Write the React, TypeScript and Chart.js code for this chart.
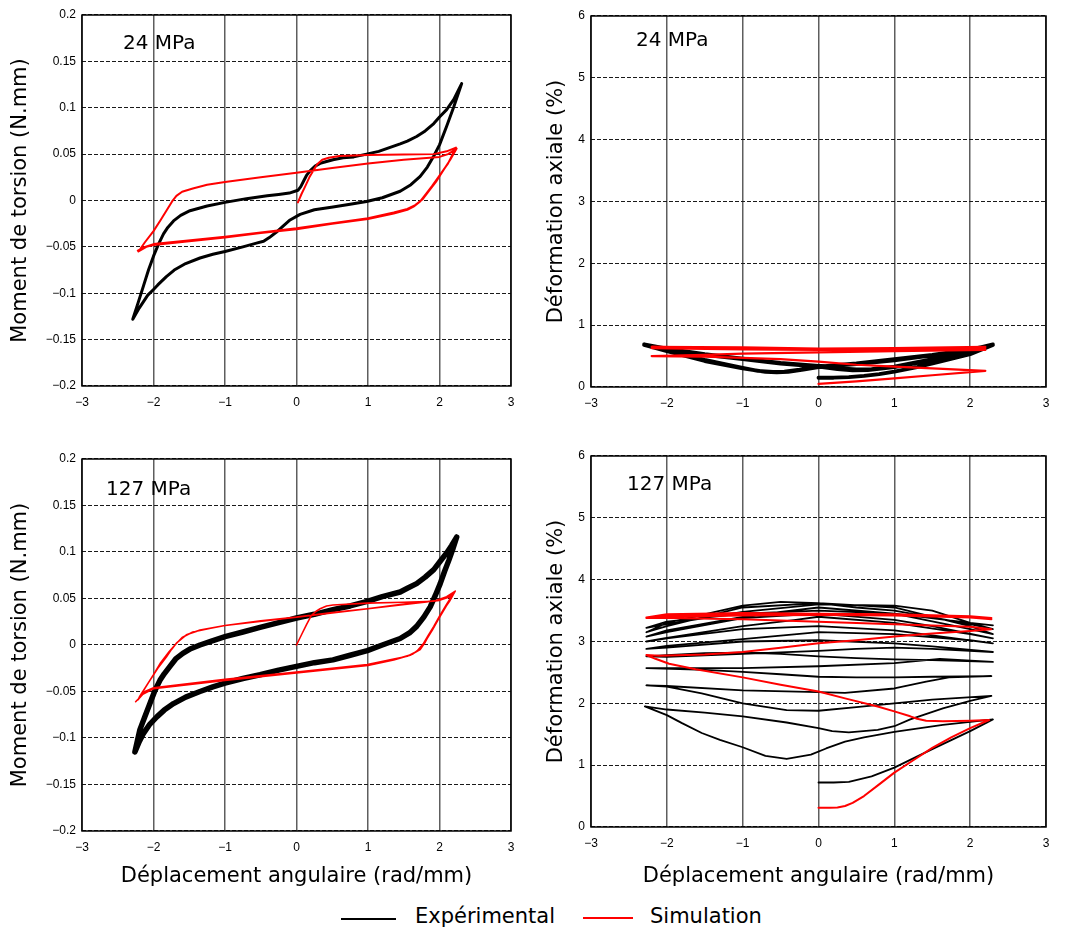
import React, { useEffect, useRef } from "react";
import { Chart, registerables } from "chart.js";

Chart.register(...registerables);

// ---------- tick values ----------
const X_TICKS = [-3, -2, -1, 0, 1, 2, 3];
const TORQUE_TICKS = [-0.2, -0.15, -0.1, -0.05, 0, 0.05, 0.1, 0.15, 0.2];
const STRAIN_TICKS = [0, 1, 2, 3, 4, 5, 6];

// ---------- labels ----------
const X_TITLE = "Déplacement angulaire (rad/mm)";
const Y_TORQUE_TITLE = "Moment de torsion (N.mm)";
const Y_STRAIN_TITLE = "Déformation axiale (%)";
const LEGEND_LABELS = ["Expérimental", "Simulation"];
const PANEL_NOTES = ["24 MPa", "24 MPa", "127 MPa", "127 MPa"];

// ---------- 24 MPa : torque (experimental) ----------
const TORQUE24_EXP = [
  [2.31, 0.126], [2.2, 0.109], [2.1, 0.098], [2.0, 0.09], [1.92, 0.083], [1.8, 0.075], [1.68, 0.069],
  [1.55, 0.064], [1.45, 0.061], [1.3, 0.057], [1.15, 0.053], [0.98, 0.05], [0.8, 0.047], [0.65, 0.046],
  [0.51, 0.044], [0.42, 0.042], [0.33, 0.04], [0.26, 0.037], [0.19, 0.032], [0.14, 0.027], [0.1, 0.021],
  [0.06, 0.015], [0.02, 0.011], [-0.1, 0.008], [-0.25, 0.0065], [-0.41, 0.005], [-0.7, 0.002], [-1.0, -0.002],
  [-1.25, -0.006], [-1.49, -0.011], [-1.62, -0.016], [-1.72, -0.022], [-1.8, -0.029], [-1.86, -0.036],
  [-1.93, -0.047], [-2.0, -0.06], [-2.07, -0.075], [-2.14, -0.092], [-2.21, -0.109], [-2.29, -0.128],
  [-2.2, -0.116], [-2.14, -0.109], [-2.08, -0.102], [-2.0, -0.096], [-1.94, -0.091], [-1.82, -0.082],
  [-1.71, -0.075], [-1.55, -0.068], [-1.35, -0.062], [-1.17, -0.058], [-1.0, -0.055], [-0.75, -0.05],
  [-0.56, -0.046], [-0.46, -0.044], [-0.38, -0.04], [-0.28, -0.034], [-0.18, -0.027], [-0.09, -0.021],
  [0.05, -0.015], [0.25, -0.01], [0.51, -0.007], [0.75, -0.004], [0.98, -0.001], [1.2, 0.003], [1.45, 0.01],
  [1.6, 0.017], [1.73, 0.026], [1.83, 0.036], [1.92, 0.048], [2.0, 0.06], [2.1, 0.08], [2.2, 0.101], [2.31, 0.126],
];

// ---------- 24 MPa : torque (simulation) ----------
const TORQUE24_SIM = [
  [0.02, -0.002], [0.07, 0.007], [0.12, 0.015], [0.18, 0.025], [0.24, 0.033], [0.29, 0.039], [0.36, 0.044],
  [0.45, 0.046], [0.6, 0.048], [1.0, 0.049], [1.5, 0.0495], [1.92, 0.05], [2.1, 0.053], [2.23, 0.057],
  [2.12, 0.04], [2.01, 0.028], [1.9, 0.016], [1.82, 0.008], [1.73, -0.001], [1.65, -0.006], [1.55, -0.01],
  [1.36, -0.014], [1.0, -0.02], [0.5, -0.025], [0, -0.031], [-0.5, -0.035], [-1.0, -0.04], [-1.5, -0.044],
  [-2.0, -0.048], [-2.1, -0.05], [-2.21, -0.055],
  [-2.12, -0.045], [-2.0, -0.033], [-1.9, -0.021], [-1.82, -0.011], [-1.74, -0.001], [-1.68, 0.005],
  [-1.6, 0.0095], [-1.45, 0.013], [-1.25, 0.017], [-1.0, 0.02], [-0.5, 0.025], [0, 0.03], [0.5, 0.035],
  [1.0, 0.04], [1.5, 0.044], [2.0, 0.047], [2.12, 0.05], [2.24, 0.056],
  [2.15, 0.044], [2.05, 0.032], [1.95, 0.02], [1.85, 0.01], [1.76, 0.001], [1.66, -0.005], [1.55, -0.009],
  [1.36, -0.013], [1.0, -0.019], [0, -0.03], [-1.0, -0.039], [-2.0, -0.047], [-2.12, -0.05], [-2.22, -0.054],
];

// ---------- 24 MPa : axial strain (experimental) ----------
const STRAIN24_EXP = [
  [0, 0.15], [0.2, 0.15], [0.4, 0.16], [0.6, 0.18], [0.8, 0.21], [1.0, 0.25], [1.3, 0.32], [1.6, 0.41],
  [2.0, 0.53], [2.3, 0.68],
  [2.0, 0.6], [1.5, 0.51], [1.0, 0.43], [0.5, 0.37], [0.0, 0.32], [-0.2, 0.28], [-0.4, 0.245], [-0.55, 0.235],
  [-0.7, 0.245], [-1.0, 0.3], [-1.5, 0.42], [-2.0, 0.58], [-2.3, 0.68],
  [-2.0, 0.61], [-1.5, 0.52], [-1.0, 0.45], [-0.5, 0.38], [0.0, 0.33], [0.25, 0.29], [0.45, 0.27],
  [0.65, 0.275], [1.0, 0.32], [1.5, 0.43], [2.0, 0.58], [2.3, 0.68],
  [2.0, 0.61], [1.5, 0.52], [1.0, 0.45], [0.5, 0.38], [0, 0.33], [-0.25, 0.28], [-0.45, 0.25], [-0.6, 0.245],
  [-0.8, 0.26], [-1.0, 0.31], [-1.5, 0.44], [-2.0, 0.6], [-2.3, 0.69],
  [-2.0, 0.62], [-1.5, 0.53], [-1.0, 0.46], [-0.5, 0.39], [0, 0.34], [0.3, 0.3], [0.5, 0.285], [0.7, 0.29],
  [1.0, 0.33], [1.5, 0.45], [2.0, 0.6], [2.3, 0.69],
];

// ---------- 24 MPa : axial strain (simulation) ----------
const STRAIN24_SIM = [
  [0, 0.05], [0.5, 0.09], [1.0, 0.14], [1.5, 0.19], [2.2, 0.26],
  [1.5, 0.3], [1.0, 0.33], [0.5, 0.36], [0, 0.41], [-0.5, 0.45], [-1.0, 0.47], [-1.5, 0.49], [-2.2, 0.5],
  [-1.5, 0.52], [-1.0, 0.54], [0, 0.56], [1.0, 0.58], [2.2, 0.6],
  [1.0, 0.61], [0, 0.6], [-1.0, 0.61], [-2.2, 0.63],
  [-1.0, 0.62], [0, 0.6], [1.0, 0.61], [2.2, 0.63],
  [1.0, 0.63], [0, 0.61], [-1.0, 0.63], [-2.2, 0.65],
  [-1.0, 0.64], [0, 0.62], [1.0, 0.63], [2.2, 0.65],
];

// ---------- 127 MPa : torque (experimental) ----------
const TORQUE127_EXP = [
  [2.24, 0.116], [2.17, 0.107], [2.1, 0.099], [2.01, 0.09], [1.92, 0.081], [1.8, 0.073], [1.68, 0.066],
  [1.55, 0.061], [1.45, 0.057], [1.2, 0.052], [0.99, 0.047], [0.75, 0.042], [0.51, 0.038], [0.25, 0.033],
  [0.0, 0.029], [-0.25, 0.024], [-0.51, 0.019], [-0.75, 0.014], [-1.0, 0.009], [-1.2, 0.004], [-1.35, 0.0],
  [-1.48, -0.004], [-1.59, -0.009], [-1.69, -0.015], [-1.77, -0.023], [-1.85, -0.031], [-1.91, -0.038],
  [-1.98, -0.049], [-2.05, -0.063], [-2.12, -0.077], [-2.19, -0.091], [-2.26, -0.115],
  [-2.2, -0.104], [-2.14, -0.095], [-2.05, -0.085], [-1.95, -0.077], [-1.85, -0.07], [-1.72, -0.063],
  [-1.55, -0.056], [-1.35, -0.05], [-1.17, -0.045], [-1.0, -0.041], [-0.75, -0.036], [-0.51, -0.032],
  [-0.25, -0.027], [0.0, -0.023], [0.25, -0.019], [0.51, -0.016], [0.75, -0.011], [0.99, -0.006], [1.2, 0.0],
  [1.45, 0.007], [1.58, 0.013], [1.68, 0.02], [1.78, 0.03], [1.87, 0.041], [1.94, 0.053], [2.01, 0.066],
  [2.07, 0.079], [2.13, 0.091], [2.19, 0.104], [2.24, 0.116],
];

// ---------- 127 MPa : torque (simulation) ----------
const TORQUE127_SIM = [
  [0, 0], [0.07, 0.011], [0.14, 0.022], [0.21, 0.032], [0.27, 0.036], [0.33, 0.039], [0.42, 0.042],
  [0.51, 0.043], [0.99, 0.045], [1.5, 0.046], [1.92, 0.047], [2.1, 0.052], [2.22, 0.058],
  [2.14, 0.047], [2.06, 0.038], [1.96, 0.025], [1.87, 0.013], [1.8, 0.003], [1.73, -0.005], [1.59, -0.011],
  [1.36, -0.016], [0.99, -0.022], [0.5, -0.026], [0, -0.03], [-0.5, -0.034], [-1.0, -0.038], [-1.5, -0.042],
  [-2.0, -0.047], [-2.14, -0.052], [-2.22, -0.059],
  [-2.14, -0.049], [-2.05, -0.038], [-1.94, -0.025], [-1.82, -0.013], [-1.75, -0.005], [-1.68, 0.002],
  [-1.54, 0.011], [-1.35, 0.016], [-1.0, 0.021], [-0.5, 0.026], [0, 0.03], [0.5, 0.035], [0.99, 0.039],
  [1.5, 0.044], [1.99, 0.048], [2.12, 0.052], [2.2, 0.056],
  [2.1, 0.044], [2.0, 0.031], [1.92, 0.02], [1.84, 0.01], [1.77, 0.001], [1.68, -0.007], [1.55, -0.012],
  [1.36, -0.015], [0.99, -0.021], [0, -0.029], [-1.0, -0.037], [-2.0, -0.046], [-2.12, -0.05], [-2.2, -0.056],
  [-2.1, -0.044], [-2.0, -0.032], [-1.9, -0.019], [-1.78, -0.007], [-1.7, 0.0], [-1.6, 0.008], [-1.45, 0.014],
  [-1.2, 0.018], [-1.0, 0.021], [0, 0.03], [1.0, 0.039], [2.0, 0.048], [2.12, 0.051], [2.18, 0.053],
  [2.08, 0.04], [1.98, 0.027], [1.9, 0.016], [1.82, 0.006], [1.74, -0.003], [1.62, -0.01], [1.36, -0.016],
  [1.0, -0.022], [0, -0.03], [-1.0, -0.038], [-2.0, -0.047], [-2.15, -0.053], [-2.25, -0.061],
];

// ---------- 127 MPa : axial strain (experimental) ----------
const STRAIN127_EXP = [
  [0, 0.72], [0.2, 0.72], [0.4, 0.73], [0.7, 0.82], [1.0, 0.96], [1.5, 1.26], [2.0, 1.55], [2.3, 1.74],
  [2.0, 1.7], [1.64, 1.65], [1.0, 1.54], [0.6, 1.45], [0.35, 1.38], [0.1, 1.27], [-0.1, 1.17], [-0.42, 1.1],
  [-0.7, 1.15], [-1.0, 1.29], [-1.3, 1.41], [-1.54, 1.52], [-1.8, 1.68], [-2.0, 1.81], [-2.29, 1.95],
  [-2.0, 1.9], [-1.5, 1.85], [-1.0, 1.79], [-0.42, 1.69], [0.0, 1.6], [0.18, 1.55], [0.4, 1.53], [0.78, 1.57],
  [1.0, 1.63], [1.21, 1.74], [1.64, 1.92], [2.0, 2.04], [2.28, 2.12],
  [1.5, 2.06], [1.0, 2.0], [0.5, 1.94], [0.0, 1.88], [-0.42, 1.89], [-1.0, 2.0], [-1.54, 2.16], [-2.0, 2.27],
  [-2.27, 2.29],
  [-2.0, 2.28], [-1.0, 2.21], [0, 2.18], [0.35, 2.17], [1.0, 2.24], [1.42, 2.35], [1.72, 2.42], [2.28, 2.44],
  [1.5, 2.43], [1.0, 2.42], [0.5, 2.42], [0, 2.43], [-0.5, 2.47], [-1.0, 2.51], [-1.5, 2.54], [-2.27, 2.57],
  [-1.0, 2.57], [0, 2.6], [1.0, 2.65], [1.6, 2.72], [2.3, 2.67],
  [1.5, 2.7], [1.0, 2.71], [0.5, 2.73], [0, 2.76], [-0.5, 2.8], [-1.0, 2.82], [-1.5, 2.81], [-2.0, 2.78], [-2.27, 2.76],
  [-2.0, 2.75], [-1.0, 2.8], [0, 2.85], [0.5, 2.88], [1.0, 2.9], [1.5, 2.88], [2.3, 2.83],
  [1.5, 2.92], [1.0, 2.97], [0, 3.02], [-1.0, 3.0], [-2.0, 2.9], [-2.27, 2.88],
  [-2.0, 2.93], [-1.0, 3.04], [0, 3.15], [1.0, 3.12], [2.0, 3.02], [2.3, 2.97],
  [1.5, 3.1], [1.0, 3.18], [0, 3.25], [-1.0, 3.2], [-2.0, 3.05], [-2.27, 3.0],
  [-2.0, 3.06], [-1.0, 3.25], [-0.3, 3.35], [0, 3.4], [1.0, 3.3], [2.0, 3.12], [2.3, 3.05],
  [1.5, 3.25], [1.0, 3.35], [0, 3.45], [-1.0, 3.38], [-2.0, 3.15], [-2.27, 3.08],
  [-2.0, 3.18], [-1.0, 3.4], [-0.5, 3.48], [0, 3.55], [1.0, 3.45], [2.0, 3.2], [2.3, 3.12],
  [2.0, 3.25], [1.0, 3.55], [0.3, 3.6], [0, 3.62], [-1.0, 3.55], [-2.0, 3.25], [-2.27, 3.15],
  [-2.0, 3.3], [-1.0, 3.58], [-0.5, 3.64], [0, 3.62], [0.5, 3.55], [1.0, 3.5], [2.0, 3.28], [2.3, 3.2],
  [2.0, 3.3], [1.5, 3.5], [1.0, 3.58], [0, 3.6], [-1.0, 3.48], [-2.0, 3.28], [-2.27, 3.22],
  [-2.0, 3.32], [-1.0, 3.45], [0, 3.5], [1.0, 3.45], [2.0, 3.3], [2.3, 3.26],
];

// ---------- 127 MPa : axial strain (simulation) ----------
const STRAIN127_SIM = [
  [0, 0.31], [0.15, 0.31], [0.25, 0.315], [0.35, 0.34], [0.45, 0.39], [0.6, 0.5], [0.8, 0.69], [1.0, 0.88],
  [1.25, 1.08], [1.5, 1.28], [1.75, 1.45], [2.0, 1.6], [2.25, 1.73],
  [2.0, 1.72], [1.64, 1.71], [1.42, 1.72], [1.3, 1.75], [1.21, 1.79], [1.0, 1.87], [0.78, 1.95], [0.35, 2.08],
  [0, 2.19], [-0.5, 2.3], [-1.0, 2.42], [-1.62, 2.55], [-1.97, 2.64], [-2.15, 2.72], [-2.27, 2.78],
  [-2.1, 2.77], [-1.5, 2.79], [-1.0, 2.83], [-0.5, 2.9], [0, 2.97], [0.5, 3.02], [1.0, 3.08], [1.5, 3.13],
  [2.0, 3.17], [2.28, 3.2],
  [2.0, 3.24], [1.0, 3.28], [0, 3.32], [-1.0, 3.36], [-2.0, 3.38], [-2.27, 3.38],
  [-2.0, 3.42], [-1.0, 3.44], [0, 3.44], [1.0, 3.42], [2.0, 3.39], [2.28, 3.36],
  [2.0, 3.4], [1.0, 3.42], [0, 3.43], [-1.0, 3.42], [-2.0, 3.4], [-2.27, 3.39],
  [-2.0, 3.44], [-1.0, 3.46], [0, 3.45], [1.0, 3.44], [2.0, 3.41], [2.28, 3.38],
];

// ---------- styling / layout ----------
const TITLE_FONT = { family: "'DejaVu Sans', sans-serif", size: 21 };
const TICK_FONT = { family: "'Liberation Sans', Arial, sans-serif", size: 12 };

const fmt = (v: number) => {
  const r = Math.round(v * 1000) / 1000;
  const s = String(Math.abs(r));
  return r < 0 ? "\u2212" + s : s;
};

const toPts = (a: number[][]) => a.map(([x, y]) => ({ x, y }));

const framePlugin = {
  id: "frame",
  afterDatasetsDraw(chart: any) {
    const { ctx, chartArea } = chart;
    const { left, top, right, bottom } = chartArea;
    ctx.save();
    ctx.strokeStyle = "#000";
    ctx.lineWidth = 1.5;
    ctx.setLineDash([]);
    ctx.strokeRect(left, top, right - left, bottom - top);
    ctx.restore();
  },
};

type PanelSpec = {
  left: number; top: number; w: number; h: number;
  padTop: number; padRight: number; yW: number; xH: number; yTitlePad: number;
  showXTitle: boolean;
  yMin: number; yMax: number; yTicks: number[]; yTitle: string;
  exp: number[][]; sim: number[][]; expW: number; simW: number;
};

const PANELS: PanelSpec[] = [
  { left: 0, top: 0, w: 530, h: 420, padTop: 15, padRight: 19, yW: 82, xH: 34, yTitlePad: 8, showXTitle: false,
    yMin: -0.2, yMax: 0.2, yTicks: TORQUE_TICKS, yTitle: Y_TORQUE_TITLE, exp: TORQUE24_EXP, sim: TORQUE24_SIM, expW: 3, simW: 2 },
  { left: 530, top: 0, w: 536, h: 420, padTop: 16, padRight: 20, yW: 61, xH: 33, yTitlePad: 14, showXTitle: false,
    yMin: 0, yMax: 6, yTicks: STRAIN_TICKS, yTitle: Y_STRAIN_TITLE, exp: STRAIN24_EXP, sim: STRAIN24_SIM, expW: 3.8, simW: 2.2 },
  { left: 0, top: 440, w: 530, h: 460, padTop: 19, padRight: 19, yW: 82, xH: 69, yTitlePad: 8, showXTitle: true,
    yMin: -0.2, yMax: 0.2, yTicks: TORQUE_TICKS, yTitle: Y_TORQUE_TITLE, exp: TORQUE127_EXP, sim: TORQUE127_SIM, expW: 5.5, simW: 1.6 },
  { left: 530, top: 440, w: 536, h: 460, padTop: 16, padRight: 20, yW: 61, xH: 73, yTitlePad: 14, showXTitle: true,
    yMin: 0, yMax: 6, yTicks: STRAIN_TICKS, yTitle: Y_STRAIN_TITLE, exp: STRAIN127_EXP, sim: STRAIN127_SIM, expW: 1.8, simW: 2 },
];

const NOTE_POS = [
  { left: 123, top: 30 },
  { left: 636, top: 27 },
  { left: 106, top: 476 },
  { left: 627, top: 471 },
];

function makeConfig(p: PanelSpec): any {
  const lineDs = (data: number[][], color: string, width: number) => ({
    data: toPts(data),
    borderColor: color,
    backgroundColor: color,
    borderWidth: width,
    showLine: true,
    pointRadius: 0,
    pointHoverRadius: 0,
    tension: 0,
    fill: false,
    borderJoinStyle: "round",
    borderCapStyle: "round",
  });
  return {
    type: "scatter",
    data: {
      datasets: [lineDs(p.sim, "#ff0000", p.simW), lineDs(p.exp, "#000000", p.expW)],
    },
    options: {
      animation: false,
      responsive: false,
      events: [],
      layout: { padding: { left: 0, top: p.padTop, right: p.padRight, bottom: 0 } },
      plugins: { legend: { display: false }, tooltip: { enabled: false } },
      scales: {
        x: {
          type: "linear",
          min: -3,
          max: 3,
          afterBuildTicks: (s: any) => { s.ticks = X_TICKS.map((value) => ({ value })); },
          afterFit: (s: any) => { s.height = p.xH; },
          ticks: { font: TICK_FONT, color: "#000", padding: 9, maxRotation: 0, callback: (v: any) => fmt(Number(v)) },
          grid: { color: "#5e5e5e", lineWidth: 1.5, drawTicks: false },
          border: { display: false },
          title: p.showXTitle
            ? { display: true, text: X_TITLE, font: TITLE_FONT, color: "#000", padding: { top: 0, bottom: 11 } }
            : { display: false },
        },
        y: {
          type: "linear",
          min: p.yMin,
          max: p.yMax,
          afterBuildTicks: (s: any) => { s.ticks = p.yTicks.map((value) => ({ value })); },
          afterFit: (s: any) => { s.width = p.yW; },
          ticks: { font: TICK_FONT, color: "#000", padding: 6, callback: (v: any) => fmt(Number(v)) },
          grid: { color: "#1a1a1a", lineWidth: 1.1, drawTicks: false, borderDash: [4, 2] },
          border: { display: false, dash: [4, 2] },
          title: { display: true, text: p.yTitle, font: TITLE_FONT, color: "#000", padding: { top: p.yTitlePad, bottom: 0 } },
        },
      },
    },
    plugins: [framePlugin],
  };
}

function Panel({ spec }: { spec: PanelSpec }) {
  const ref = useRef<HTMLCanvasElement | null>(null);
  useEffect(() => {
    if (!ref.current) return;
    const chart = new Chart(ref.current, makeConfig(spec));
    return () => chart.destroy();
  }, [spec]);
  return (
    <canvas
      ref={ref}
      width={spec.w}
      height={spec.h}
      style={{ position: "absolute", left: spec.left, top: spec.top, width: spec.w, height: spec.h }}
    />
  );
}

export default function App() {
  const textStyle: React.CSSProperties = {
    position: "absolute",
    fontFamily: "'DejaVu Sans', sans-serif",
    color: "#000",
    whiteSpace: "nowrap",
  };
  return (
    <div style={{ position: "absolute", left: 0, top: 0, width: 1066, height: 934, background: "#fff", overflow: "hidden" }}>
      {PANELS.map((p, i) => (
        <Panel key={i} spec={p} />
      ))}
      {PANEL_NOTES.map((t, i) => (
        <div key={"n" + i} style={{ ...textStyle, left: NOTE_POS[i].left, top: NOTE_POS[i].top, fontSize: 20, lineHeight: "24px" }}>
          {t}
        </div>
      ))}
      <div style={{ position: "absolute", left: 341, top: 918, width: 55, height: 1.5, background: "#000" }} />
      <div style={{ ...textStyle, left: 415, top: 904, fontSize: 21, lineHeight: "25px" }}>{LEGEND_LABELS[0]}</div>
      <div style={{ position: "absolute", left: 583, top: 917, width: 50, height: 1.5, background: "#ff0000" }} />
      <div style={{ ...textStyle, left: 650, top: 904, fontSize: 21, lineHeight: "25px" }}>{LEGEND_LABELS[1]}</div>
    </div>
  );
}
